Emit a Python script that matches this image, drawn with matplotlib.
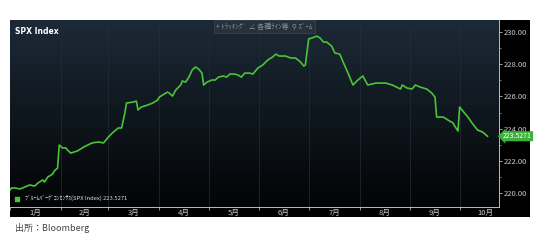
import numpy as np
import pandas as pd
import matplotlib
matplotlib.use('Agg')
import matplotlib.pyplot as plt

plt.rcParams['font.family'] = ['Noto Sans CJK JP', 'DejaVu Sans']

# days since Jan 1, consensus value
day = [0, 1, 3, 6, 9, 12, 15, 17, 20, 21, 23, 26, 27, 29, 30, 32, 34, 35, 37, 41,
       45, 50, 54, 57, 60, 63, 66, 68, 70, 71, 75, 77, 78, 80, 84, 87, 90, 91, 93, 96,
       97, 99, 101, 104, 105, 107, 109, 111, 113, 115, 117, 118, 120, 123, 125, 127, 130, 132, 134, 137,
       139, 141, 143, 146, 148, 151, 154, 157, 160, 162, 164, 168, 171, 174, 177, 179, 180, 182, 184, 187,
       189, 191, 193, 196, 198, 201, 203, 206, 209, 212, 215, 218, 223, 229, 233, 238, 239, 242, 245, 247,
       250, 254, 257, 259, 260, 264, 267, 270, 271, 273, 274, 276, 279, 282, 285, 288, 291]
value = [220.19, 220.31, 220.31, 220.25, 220.37, 220.50, 220.43, 220.62, 220.81, 220.68,
         220.99, 221.18, 221.37, 221.55, 222.98, 222.80, 222.80, 222.67, 222.48, 222.61,
         222.86, 223.11, 223.17, 223.11, 223.48, 223.79, 224.04, 224.04, 224.97, 225.59,
         225.65, 225.71, 225.16, 225.34, 225.47, 225.59, 225.78, 225.96, 226.09, 226.27,
         226.21, 226.02, 226.40, 226.71, 226.96, 226.89, 227.20, 227.64, 227.83, 227.70,
         227.45, 226.71, 226.89, 227.02, 227.02, 227.20, 227.27, 227.20, 227.39, 227.39,
         227.33, 227.20, 227.45, 227.45, 227.39, 227.76, 227.95, 228.26, 228.45, 228.63,
         228.51, 228.51, 228.39, 228.39, 228.14, 227.89, 227.95, 229.57, 229.63, 229.75,
         229.63, 229.38, 229.38, 229.13, 228.70, 228.63, 228.14, 227.45, 226.71, 227.02,
         227.27, 226.71, 226.83, 226.83, 226.71, 226.46, 226.71, 226.52, 226.46, 226.71,
         226.58, 226.46, 226.21, 225.96, 224.72, 224.72, 224.53, 224.35, 224.16, 223.85,
         225.34, 225.09, 224.72, 224.29, 223.91, 223.79, 223.5271]
month_labels = ['1月', '2月', '3月', '4月', '5月', '6月', '7月', '8月', '9月', '10月']
y_ticks = [220, 222, 224, 226, 228, 230]
last_label = '223.5271'

start = pd.Timestamp('2016-01-01')
dates = start + pd.to_timedelta(day, unit='D')
month_starts = pd.date_range('2016-01-01', periods=11, freq='MS')
month_mids = month_starts[:-1] + (month_starts[1:] - month_starts[:-1]) / 2

LINE = '#4cc23a'
TXT = '#c8ccd0'

fig = plt.figure(figsize=(5.4, 2.43), dpi=100)
fig.patch.set_facecolor('white')

# black panel behind everything (includes the right axis strip)
bg = fig.add_axes([10 / 540, 26 / 243, 520 / 540, 197 / 243], zorder=-1)
bg.set_facecolor('#000000')
bg.set_xticks([])
bg.set_yticks([])
for s in bg.spines.values():
    s.set_visible(False)

ax = fig.add_axes([10 / 540, 36 / 243, 489 / 540, 187 / 243], zorder=1)
ax.set_facecolor('none')

# navy-to-black gradient
grad = np.linspace(1, 0, 256).reshape(-1, 1)
cmap = matplotlib.colors.LinearSegmentedColormap.from_list('bb', ['#030405', '#1c2a37'])
ax.imshow(grad, cmap=cmap, aspect='auto', extent=[0, 1, 0, 1],
          transform=ax.transAxes, zorder=0, vmin=0, vmax=1)

ax.plot(dates, value, color=LINE, lw=1.2, zorder=3)

ax.set_xlim(start, start + pd.Timedelta(days=298))
ax.set_ylim(219.13, 230.75)

for d in month_starts[1:]:
    ax.axvline(d, color='#222d38', lw=0.5, zorder=1)

ax.set_xticks(month_mids)
ax.set_xticklabels(month_labels)
ax.set_xticks(month_starts[:10], minor=True)
ax.tick_params(axis='x', which='major', length=0, pad=1.5, labelsize=5.5, colors=TXT)
ax.tick_params(axis='x', which='minor', length=2, color='#aaaaaa', width=0.6)

ax.yaxis.tick_right()
ax.set_yticks(y_ticks)
ax.set_yticklabels([f'{v:.2f}' for v in y_ticks])
ax.set_yticks([221, 223, 225, 227, 229], minor=True)
ax.tick_params(axis='y', which='major', length=2.5, width=0.6, color='#bbbbbb',
               pad=1, labelsize=5.5, colors=TXT)
ax.tick_params(axis='y', which='minor', length=1.2, width=0.6, color='#888888')

for s in ['top', 'left']:
    ax.spines[s].set_visible(False)
ax.spines['right'].set_color('#bbbbbb')
ax.spines['right'].set_linewidth(0.7)
ax.spines['bottom'].set_color('#bbbbbb')
ax.spines['bottom'].set_linewidth(0.7)

ax.text(0.01, 0.965, 'SPX Index', transform=ax.transAxes, ha='left', va='top',
        fontsize=5.5, fontweight='bold', color='white', family='DejaVu Sans')

ax.text(0.422, 0.985, '+ ﾄﾗｯｷﾝｸﾞ  ∠ 各種ﾗｲﾝ等  ⚲ ｽﾞｰﾑ', transform=ax.transAxes,
        ha='left', va='top', fontsize=5, color='#8a949c',
        bbox=dict(boxstyle='square,pad=0.35', facecolor='#26313b', edgecolor='#3a4550', lw=0.5))

# legend
ax.scatter([0.015], [0.043], marker='s', s=10, color=LINE, transform=ax.transAxes, zorder=5)
ax.text(0.03, 0.043, 'ﾌﾞﾙｰﾑﾊﾞｰｸﾞｺﾝｾﾝｻｽ(SPX Index) ' + last_label, transform=ax.transAxes,
        ha='left', va='center', fontsize=4.2, color='#e0e0e0')

# last value tag
ax.annotate(last_label, xy=(1.0, value[-1]), xycoords=('axes fraction', 'data'),
            xytext=(3, 0), textcoords='offset points', ha='left', va='center',
            fontsize=5, color='#ffffff', annotation_clip=False,
            bbox=dict(boxstyle='larrow,pad=0.15', facecolor='#3db23a', edgecolor='none'))

fig.text(15 / 540, 1 - 228 / 243, '出所：Bloomberg', ha='left', va='center',
         fontsize=6.5, color='#444444')

fig.savefig('out.png', dpi=100)
